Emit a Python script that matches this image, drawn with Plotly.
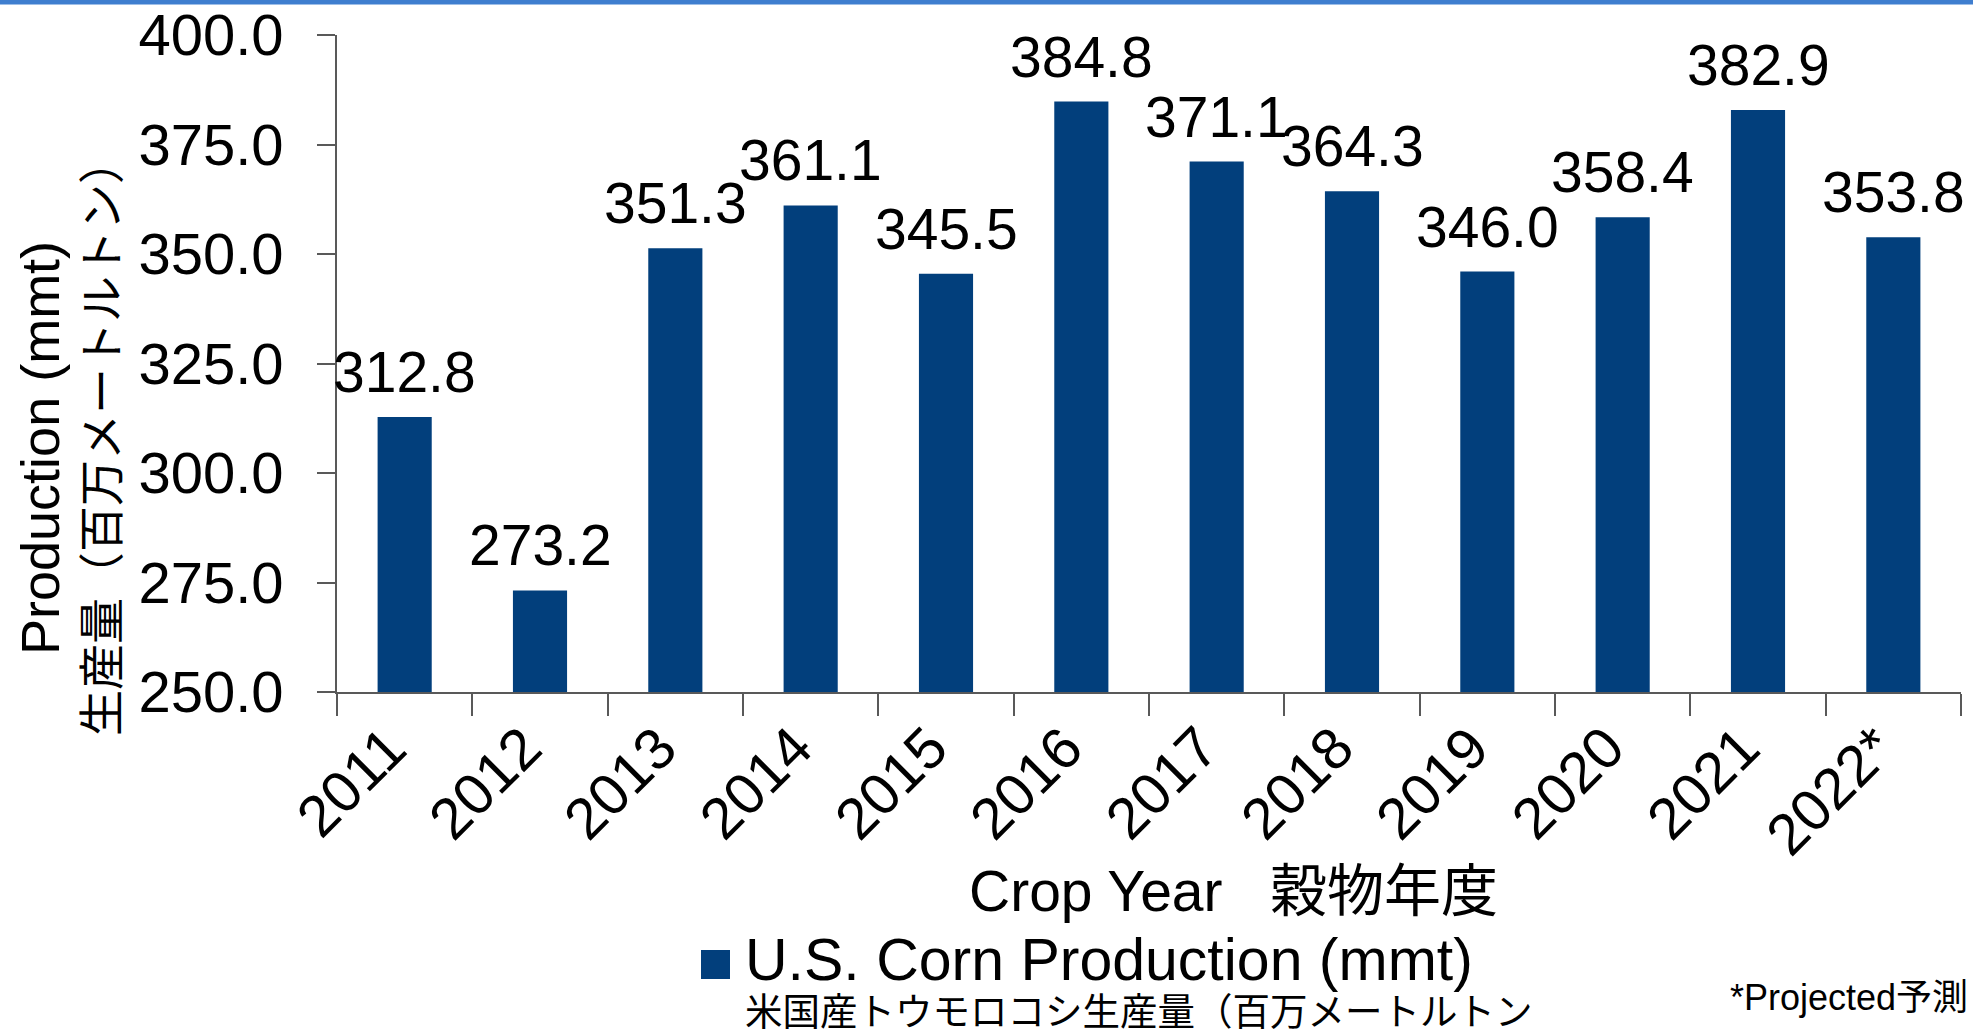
import plotly.graph_objects as go

# ---- data ----
years = ["2011", "2012", "2013", "2014", "2015", "2016",
         "2017", "2018", "2019", "2020", "2021", "2022*"]
production = [312.8, 273.2, 351.3, 361.1, 345.5, 384.8,
              371.1, 364.3, 346.0, 358.4, 382.9, 353.8]
y_ticks = [250, 275, 300, 325, 350, 375, 400]
y_title_en = "Production (mmt)"
y_title_ja = "生産量（百万メートルトン）"
x_title = "Crop Year\u00a0\u00a0\u00a0穀物年度"
legend_en = "U.S. Corn Production (mmt)"
legend_ja = "米国産トウモロコシ生産量（百万メートルトン"
note = "*Projected予測"

# ---- layout geometry (pixels) ----
W, H = 1973, 1034
L, R, T, B = 337, 1961, 35, 692
PW, PH = R - L, B - T

def px(x):
    return (x - L) / PW

def py(y):
    return (B - y) / PH

FONT = "Liberation Sans, Arial, Noto Sans CJK JP, sans-serif"
BAR = "#023F7C"
AX = "#595959"

fig = go.Figure()
fig.add_trace(go.Bar(
    x=list(range(len(years))), y=production, width=0.4,
    marker=dict(color=BAR, line=dict(width=0)),
    showlegend=False, hoverinfo="y",
))

annotations = []
for i, v in enumerate(production):
    annotations.append(dict(
        x=i, y=v, xref="x", yref="y", text=f"{v:.1f}",
        showarrow=False, yanchor="bottom", xanchor="center", yshift=11,
        font=dict(size=57, color="black", family=FONT),
    ))
# x tick labels (rotated)
for i, yr in enumerate(years):
    annotations.append(dict(
        x=i, y=py(711), xref="x", yref="paper", text=yr,
        textangle=-45, showarrow=False, xanchor="right", yanchor="top",
        xshift=16,
        font=dict(size=58, color="black", family=FONT),
    ))

# axis titles
annotations.append(dict(
    x=px(40), y=py(448), xref="paper", yref="paper", text=y_title_en,
    textangle=-90, showarrow=False, xanchor="center", yanchor="middle",
    font=dict(size=54, color="black", family=FONT),
))
annotations.append(dict(
    x=px(102), y=py(437), xref="paper", yref="paper", text=y_title_ja,
    textangle=-90, showarrow=False, xanchor="center", yanchor="middle",
    font=dict(size=46, color="black", family=FONT),
))
annotations.append(dict(
    x=px(1233), y=py(891), xref="paper", yref="paper", text=x_title,
    showarrow=False, xanchor="center", yanchor="middle",
    font=dict(size=57, color="black", family=FONT),
))
# legend text
annotations.append(dict(
    x=px(743), y=py(960), xref="paper", yref="paper", text=legend_en,
    showarrow=False, xanchor="left", yanchor="middle",
    font=dict(size=59, color="black", family=FONT),
))
annotations.append(dict(
    x=px(743), y=py(1012), xref="paper", yref="paper", text=legend_ja,
    showarrow=False, xanchor="left", yanchor="middle",
    font=dict(size=37.5, color="black", family=FONT),
))
annotations.append(dict(
    x=px(1970), y=py(997), xref="paper", yref="paper", text=note,
    showarrow=False, xanchor="right", yanchor="middle",
    font=dict(size=36, color="black", family=FONT),
))

shapes = [
    # top blue rule
    dict(type="rect", xref="paper", yref="paper",
         x0=px(0), x1=px(W), y0=py(4.5), y1=py(0),
         fillcolor="#3F7ECF", line=dict(width=0), layer="above"),
    # legend swatch
    dict(type="rect", xref="paper", yref="paper",
         x0=px(701), x1=px(730), y0=py(979), y1=py(950),
         fillcolor=BAR, line=dict(width=0)),
]

fig.update_layout(
    width=W, height=H,
    margin=dict(l=L, r=W - R, t=T, b=H - B, autoexpand=False),
    paper_bgcolor="white", plot_bgcolor="white",
    font=dict(family=FONT, color="black"),
    annotations=annotations, shapes=shapes,
)
fig.update_xaxes(
    range=[-0.5, len(years) - 0.5],
    tickvals=[i - 0.5 for i in range(len(years) + 1)], showticklabels=False,
    showline=True, linecolor=AX, linewidth=1.5,
    ticks="outside", ticklen=22, tickcolor=AX, tickwidth=1.5,
    showgrid=False, zeroline=False, automargin=False,
)
fig.update_yaxes(
    range=[250, 400], tickvals=y_ticks, tickformat=".1f",
    showline=True, linecolor=AX, linewidth=1.5,
    ticks="outside", ticklen=18, tickcolor=AX, tickwidth=1.5,
    tickfont=dict(size=58, color="black", family=FONT),
    ticklabelstandoff=22,
    showgrid=False, zeroline=False, automargin=False,
)

fig.write_html(
    "out.html",
    config={"displayModeBar": False},
    post_script="document.body.style.margin='0px';document.body.style.overflow='hidden';",
)
